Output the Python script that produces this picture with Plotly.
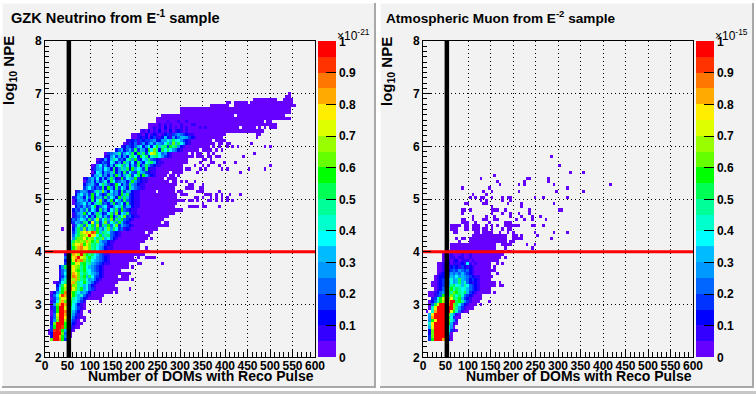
import numpy as np
import plotly.graph_objects as go

# ---- data: each row is (y-bin index, first x-bin index, cell levels 0-19 in base-20, '.' = empty)
X_BIN_WIDTH = 6
Y_BIN_WIDTH = 0.06
NBINS = 100
CUT_DOMS = 53
CUT_NPE = 4
X_TICKS = list(range(0, 601, 50))
Y_TICKS = [2, 3, 4, 5, 6, 7, 8]
CBAR_TICKS = [0, .1, .2, .3, .4, .5, .6, .7, .8, .9, 1]
CBAR_LABELS = ["0", "0.1", "0.2", "0.3", "0.4", "0.5", "0.6", "0.7", "0.8", "0.9", "1"]
PALETTE = ["#6600ff", "#3300ff", "#0000ff", "#0033ff", "#0066ff", "#0099ff", "#00bbff", "#00ffff", "#00ffcc", "#00ff99",
           "#00ff55", "#00ff00", "#66ff00", "#99ff00", "#ddff00", "#ffee00", "#ffaa00", "#ff7700", "#ff3300", "#ff0000"]

NEUTRINO = [
(5,2,"cjjhb30"),(6,2,"2jjgb510"),(7,1,"02jjjc420"),(8,1,"03ijib6310"),(9,2,"3bjjib73100"),(10,2,"2cjjjb842100"),
(11,2,"15cjjd95310.0"),(12,2,"14djjfb742100"),(13,2,"04ejjgc85310"),(14,2,"03bjjhd96420..0"),(15,2,"13bjjec975310"),
(16,2,"05cgjgdb75210"),
(17,2,"137dgceb87531.....0"),(18,2,"036cfefc97642100000"),(19,2,"147eigdfb96842100000"),
(20,2,"0259bhgdb97564200000000.0"),(21,4,"37bdfhec9b6743100000000....0"),(22,4,"26aeghcd98674210000000"),
(23,3,"01379cfgc97b864210000000"),(24,5,"258bedgc9a7564210000000000.0"),(25,5,"136adhgc9b6a7432100000.000"),
(26,5,"147bcgfc8a97654210000000000"),
(27,5,"146bdfcb9b8754321000000"),(28,5,"25acdfdc9b7654321000000000.0"),
(29,7,"36abfeab8965432110000000...00.......0"),(30,7,"27beighc9a76543210000000000"),
(31,7,"48cfgjed9b8754321000000000.0..0000"),(32,7,"17bgfdjcb9a7643110000000000000"),
(33,8,"39fgfcdeb9a75321000000000000000"),(34,8,"26bdghefc9a7542110000000000..0"),
(35,8,"18cffgbec9a8653210000000000"),(36,8,"37adcdcgdb9c64421100000000000"),
(37,10,"5accfbdc7a9c6742100000000000.0"),(38,10,"48acdejfe7b69a432100000000000"),
(39,10,"36adfgeihb6a974321000000000.00"),
(40,6,"0...26a5c48a5b648c5a7341210000000000"),(41,10,"148a4c7b5d3a6b47c3643210000000000000"),
(42,9,"13654a92e5a38c47a5b632100000000000.00"),(43,9,"2435763a48d47a5c3a6b432100000000000"),
(44,10,"134647252a8363b25a7c3421100000000000"),(45,10,"1356b3725a6237a4c276a31100000000000000"),
(46,8,"0.2436493752a46275a3b4321100000000000000000"),
(47,11,"2436347b246712576a3652110000000000000.....0000.00....0"),
(48,10,"0345736269a3425b3572a321100000000000000.........0"),
(49,10,"0256462a27c426b2753a4321100000000000000000.00.0...00.0.0.0.0"),
(50,10,"1365284b2563a4752b5a6321100000000000000......00.0..0.0.0.0"),
(51,11,"257463b37423a6452b6a321100000000000000.000......000.0.0..0...0"),
(52,11,"1355423696c527452a365211000000.000000.00.....000.....0"),
(53,14,"3574243a2b52a3752a6431100000000000....000..00"),
(54,14,"2456327a6423b7253a54211000000000000....00...0"),
(55,14,"0346263582a7346525b5321100000000.00.0.0..0"),
(56,14,"1246372625a521b3765b3211000000.0000"),
(57,17,"256835263b6258a37a2b63210000.00.0"),
(58,17,"02762546a252a3743a65321100000.0000.....0"),
(59,17,"13563752a2596a2b5763a2110000000000.00...0.0.....0"),
(60,17,"01573526297a58263a25a5321100000000....0..0.0...0"),
(61,19,"1243276252a6372a5279a6211000000000....0...00...0"),
(62,19,"012526973428a5b3276a43210000000000.....00.0"),
(63,22,"1257362528a72b7a289a7532100000000.000.00.00"),
(64,22,"0345693575a2b6a38eda74521000000.0.00..0.0"),
(65,26,"2462463a3652b7c92a7a75421000000.0000.0.0"),
(66,28,"1243246725727b69a3b9a521000000000.0.0..0.0.0"),
(67,29,"0132413524636547a5c6a7521000000000.00.00.......0"),
(68,30,"11231323345225576a87532100000000.0000"),
(69,32,"0012120231126215246653210000000000"),
(70,32,"00110201210123134543211000000000000...........00"),
(71,35,"0102010201020121010000000000000000000000000000"),
(72,38,"0010102010101010000101000000000000.00000.0.0.000"),
(73,38,"000010101000100011000000000000000000000000000000"),
(74,41,"0000100010010000000000000000000000000000.00"),
(75,41,"00000000000000000000000000000000000000000000000000"),
(76,43,"000000000000000000000000000.000000000000000000"),
(77,50,"00000000000000000000000000000000000000000"),
(78,50,"00000000000000000000000000000000000000000"),
(79,60,".0000000..00000000000000000000000"),
(80,67,"00.00000.0000000000000000"),
(81,77,"000000000..0000"),
(82,89,"00"),
(83,90,"0"),
(60,83,"0"),(59,81,"0"),(59,75,"0"),(58,72,"0"),(61,70,"0"),(59,67,"0"),(64,77,"0"),(63,73,"0"),(66,83,"0"),(66,81,"0"),(69,78,"0"),
]

MUON = [
(5,2,"3bjjjgf20"),(6,2,"3cjjjjb30"),(7,2,"2cjjjjd50"),(8,2,"2cjjjjc7310"),(9,2,"6ejjjjc750"),(10,2,"8fjjjjgb610"),
(11,2,"5bfjjjjc851"),(12,2,"5gjjjjjb7300"),(13,2,"6fjjjjjd8510"),(14,1,"0.8gjjjjjeb84100"),(15,2,"08ejjjjjjc9531000"),
(16,2,"04aejjjhjca7421000.0"),(17,2,"0248bdhgjjab9531000...0"),(18,3,"138bedcea9b63210000"),
(19,2,"00134bd9ca8a84321000"),(20,2,"0012459a9cb98a632100000.0"),(21,4,"012479b8a978643210000"),
(22,3,"00123569a786974321000000.00"),(23,3,"0012345756a6842121000000.0"),(24,4,"012346856a65423210000"),
(25,4,"0122346575654321100000"),(26,5,"01233545464321000000..0"),(27,5,"0012234354342100000000"),
(28,5,"00101232132121000000.0"),(29,5,"00102011121710100000..0.0"),(30,7,"001012011101000000000"),
(31,7,"0001101100100000000000.0"),(32,7,"00010001001000000000000"),(33,8,"0000000000000000000000.00"),
(34,8,"0.00000000000000000...0.........0"),(35,10,"00000000000000000..0000.....0..0"),
(36,13,"0...00000000000000.00"),(37,12,"0.00.00000000000000..0000..........0"),
(38,18,"0000000000000..00.0.....0"),(39,11,"00......00.0000..0..0.0.......0......0....0"),
(40,10,"000..00.000.00.0...0.00"),(41,10,"0000.00.000..0.0.0..000000....00..0"),
(42,14,"000..0....0.....000"),(43,14,"00..0...00..00......0..0..0....0"),
(44,18,"0....0..0.....0...0...0..0"),(45,14,"0..........0...0..0..0...0"),
(46,14,"00.0.......000..0........0..........00"),(47,25,"0..........0"),
(48,15,"00.....00.......0....0...........0"),(49,21,"0.0.....0..0"),
(50,17,"0.0.00..0...0.00........0..0........0"),(51,18,"0....0"),
(52,22,"0..0.........0.............0.........0"),
(53,14,"0.........0............................0"),
(54,28,"0......0.0..........0....................0"),
(55,27,"0.........0........0"),(56,21,"0................00......0"),
(57,26,"0"),(58,54,"0....0"),(60,50,"0"),(63,47,"0"),
]

TITLES = ["GZK Neutrino from E<sup>-1</sup> sample", "Atmospheric Muon from E<sup>-2</sup> sample"]
TITLE_SIZE = [14.6, 13.6]
TITLE_X = [9, 384]
EXPONENTS = ["\u00d710<sup>-21</sup>", "\u00d710<sup>-15</sup>"]
X_TITLE = "Number of DOMs with Reco Pulse"
Y_TITLE = "log<sub>10</sub> NPE"
FONT = "Liberation Sans"
W, H = 756, 394


def grid(rows):
    z = np.full((NBINS, NBINS), np.nan)
    for j, start, cells in rows:
        for k, c in enumerate(cells):
            if c != ".":
                z[j, start + k] = (int(c, 20) + 0.5) / 20
    return z


cs = []
for i, c in enumerate(PALETTE):
    cs += [[i / 20, c], [(i + 1) / 20, c]]

fig = go.Figure()
OFFSET = [0, 378]
PANELS = [NEUTRINO, MUON]
shapes, annots = [], []
def fx(p): return p / W
def fy(p): return 1 - p / H

for n, off in enumerate(OFFSET):
    suffix = "" if n == 0 else "2"
    fig.add_trace(go.Heatmap(
        z=grid(PANELS[n]), x0=X_BIN_WIDTH / 2, dx=X_BIN_WIDTH, y0=2 + Y_BIN_WIDTH / 2, dy=Y_BIN_WIDTH,
        zmin=0, zmax=1, zsmooth=False, colorscale=cs, hoverongaps=False, xaxis="x" + suffix, yaxis="y" + suffix,
        colorbar=dict(x=fx(318 + off), xanchor="left", y=fy(357.3), yanchor="bottom", len=316.3 / H, lenmode="fraction",
                      thickness=18, thicknessmode="pixels", xpad=0, ypad=0, outlinewidth=0,
                      tickmode="array", tickvals=CBAR_TICKS, ticktext=CBAR_LABELS, ticks="inside", ticklen=10,
                      tickcolor="black", tickwidth=1, tickfont=dict(family=FONT, size=12, color="black", weight="bold"))))
    fig.add_trace(go.Scatter(x=[CUT_DOMS, CUT_DOMS], y=[Y_TICKS[0], Y_TICKS[-1]], mode="lines", line=dict(color="black", width=4.5),
                             xaxis="x" + suffix, yaxis="y" + suffix, showlegend=False, hoverinfo="skip"))
    fig.add_trace(go.Scatter(x=[X_TICKS[0], X_TICKS[-1]], y=[CUT_NPE, CUT_NPE], mode="lines", line=dict(color="red", width=3),
                             xaxis="x" + suffix, yaxis="y" + suffix, showlegend=False, hoverinfo="skip"))
    axcommon = dict(showline=True, linecolor="black", linewidth=1, mirror=True, ticks="inside", tickcolor="black",
                    ticklen=8, tickwidth=1, showgrid=True, gridcolor="black", griddash="1px,3px", gridwidth=1, zeroline=False,
                    automargin=False, tickangle=0,
                    tickfont=dict(family=FONT, size=12, color="black", weight="bold"))
    fig.layout["xaxis" + suffix] = go.layout.XAxis(
        domain=[fx(45 + off), fx(315 + off)], range=[0, 600], anchor="y" + suffix, tickvals=X_TICKS, ticklabelstandoff=-3,
        minor=dict(dtick=10, ticks="inside", ticklen=5, tickcolor="black", showgrid=False), **axcommon)
    fig.layout["yaxis" + suffix] = go.layout.YAxis(
        domain=[fy(357.3), fy(41)], range=[2, 8], anchor="x" + suffix, tickvals=Y_TICKS,
        minor=dict(dtick=0.1, ticks="inside", ticklen=4, tickcolor="black", showgrid=False), **axcommon)
    # pad bevel
    shapes += [
        dict(type="rect", xref="paper", yref="paper", x0=fx(2 + off), x1=fx(376 + off), y0=fy(388), y1=fy(3), layer="below",
             fillcolor="#a8a8a8", line_width=0),
        dict(type="rect", xref="paper", yref="paper", x0=fx(2 + off), x1=fx(374 + off), y0=fy(386), y1=fy(3), layer="below",
             fillcolor="#fafafa", line_width=0),
        dict(type="rect", xref="paper", yref="paper", x0=fx(3 + off), x1=fx(374 + off), y0=fy(386), y1=fy(4), layer="below",
             fillcolor="#f2f2f2", line_width=0),
    ]
    annots += [
        dict(text=TITLES[n], x=fx(TITLE_X[n]), y=fy(17), xref="paper", yref="paper", xanchor="left", yanchor="middle", showarrow=False,
             font=dict(family=FONT, size=TITLE_SIZE[n], color="black", weight="bold")),
        dict(text=X_TITLE, x=fx(316 + off), y=fy(376), xref="paper", yref="paper", xanchor="right", yanchor="middle", showarrow=False,
             font=dict(family=FONT, size=14, color="black", weight="bold")),
        dict(text=Y_TITLE, x=fx(9 + off), y=fy(71), xref="paper", yref="paper", xanchor="center", yanchor="middle", textangle=-90, showarrow=False,
             font=dict(family=FONT, size=15, color="black", weight="bold")),
        dict(text=EXPONENTS[n], x=fx(335 + off), y=fy(35), xref="paper", yref="paper", xanchor="left", yanchor="middle", showarrow=False,
             font=dict(family=FONT, size=12, color="black")),
    ]

shapes.append(dict(type="rect", xref="paper", yref="paper", x0=fx(0), x1=fx(756), y0=fy(394), y1=fy(391), layer="below",
                   fillcolor="#c8c8c8", line_width=0))
fig.update_layout(width=W, height=H, margin=dict(l=0, r=0, t=0, b=0, autoexpand=False), paper_bgcolor="#ffffff", plot_bgcolor="#f2f2f2",
                  shapes=shapes, annotations=annots, showlegend=False)
fig.write_html("out.html", config=dict(displayModeBar=False),
               post_script="document.body.style.margin='0';document.documentElement.style.overflow='hidden';")
